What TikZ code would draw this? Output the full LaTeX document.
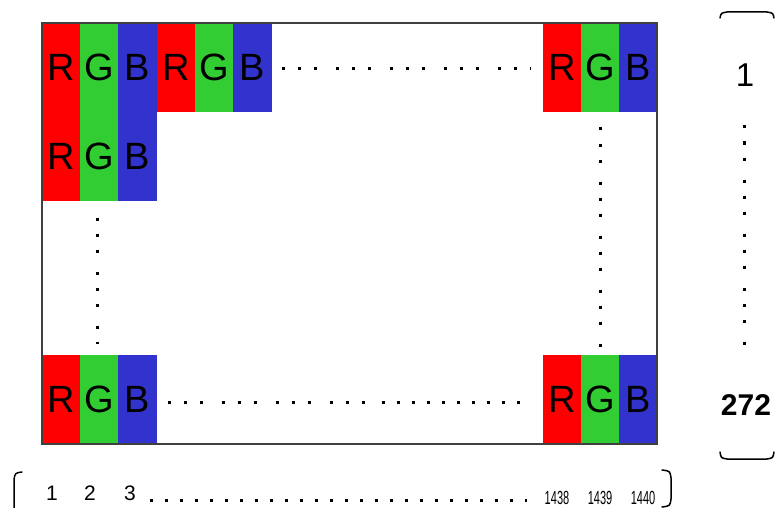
\documentclass[tikz,border=0pt]{standalone}
\usepackage{fontspec}
\setmainfont{Liberation Sans}
\usetikzlibrary{positioning}
\definecolor{pixred}{RGB}{255,0,0}
\definecolor{pixgreen}{RGB}{50,205,50}
\definecolor{pixblue}{RGB}{50,50,205}
\tikzset{
    %Define style for sub pixels
    sub/.style={
           rectangle,
           inner sep=0pt,
           line width=0.6pt,
           minimum width=37.5pt,
           minimum height=87.9pt,
           font=\fontsize{38}{38}\selectfont},
    subR/.style={sub, fill=pixred, draw=pixred},
    subG/.style={sub, fill=pixgreen, draw=pixgreen},
    subB/.style={sub, fill=pixblue, draw=pixblue},
    %Define style for the panel frame
    frame/.style={
           draw=black!75,
           line width=1.5pt},
    % Define dotted runs
    dotrun/.style={
           line width=3pt,
           dash pattern=on 3pt off 13pt on 3pt off 13pt on 3pt off 19pt},
    dotline/.style={
           line width=3pt,
           dash pattern=on 3pt off 12pt},
    brace/.style={
           line width=1.5pt,
           line cap=round},
    % Define number labels
    numbig/.style={font=\fontsize{33}{33}\selectfont},
    numsmall/.style={font=\fontsize{21}{21}\selectfont},
    numtiny/.style={font=\fontsize{19}{19}\selectfont, xscale=0.58}
}

\begin{document}
\begin{tikzpicture}[x=1pt, y=-1pt]
    \useasboundingbox (0,0) rectangle (776,508);
 %pixels
    \foreach \grp/\px/\py in {tl/42/23, tm/157/23, tr/543/23, ml/42/112, bl/42/355, br/543/355}{
        \node[subR, anchor=north west] (\grp R) at (\px,\py) {R};
        \node[subG, right=0pt of \grp R] (\grp G) {G};
        \node[subB, right=0pt of \grp G] (\grp B) {B};
    }
    \draw[frame] (42,23) rectangle (657,444);
 %dots
    \coordinate (topS) at (281.5,69);
    \coordinate (topE) at (531,69);
    \coordinate (botS) at (167.5,402);
    \coordinate (botM) at (364.5,402);
    \coordinate (botN) at (381.5,402);
    \coordinate (botE) at (521,402);
    \coordinate (leftS) at (97,217.5);
    \coordinate (leftE) at (97,344);
    \coordinate (rightS) at (600,127.5);
    \coordinate (rightE) at (600,346.5);
    \draw[dotrun] (topS) -- (topE);
    \draw[dotrun] (botS) -- (botM);
    \draw[dotline, dash pattern=on 3pt off 12.1pt] (botN) -- (botE);
    \draw[dotrun] (leftS) -- (leftE);
    \draw[dotrun] (rightS) -- (rightE);
 %row numbers
    \node[numbig] (rowone) at (745,75) {1};
    \node[numbig, font=\bfseries\fontsize{30}{30}\selectfont] (rowlast) at (746,405) {272};
    \coordinate (rowS) at (744,125.5);
    \coordinate (rowE) at (744,344.5);
    \draw[dotrun] (rowS) -- (rowE);
    \draw[brace] (720,18) .. controls (721,13) .. (727,12) -- (767,12) .. controls (773,13) .. (774,18);
    \draw[brace] (720,452) .. controls (721,458) .. (727,459) -- (767,459) .. controls (773,458) .. (774,452);
 %column numbers
    \node[numsmall] (colone) at (52,493.5) {1};
    \node[numsmall] (coltwo) at (90,493.5) {2};
    \node[numsmall] (colthree) at (130,493.5) {3};
    \coordinate (colS) at (149.5,500);
    \coordinate (colE) at (527,500);
    \draw[dotline] (colS) -- (colE);
    \node[numtiny] (c1438) at (557,498) {1438};
    \node[numtiny] (c1439) at (600,498) {1439};
    \node[numtiny] (c1440) at (643,498) {1440};
    \draw[brace] (22,472) .. controls (15,473) .. (14,480) -- (14,508);
    \draw[brace] (662,470) .. controls (670,471) .. (671,478) -- (671,499) .. controls (670,506) .. (662,507);
\end{tikzpicture}
\end{document}
